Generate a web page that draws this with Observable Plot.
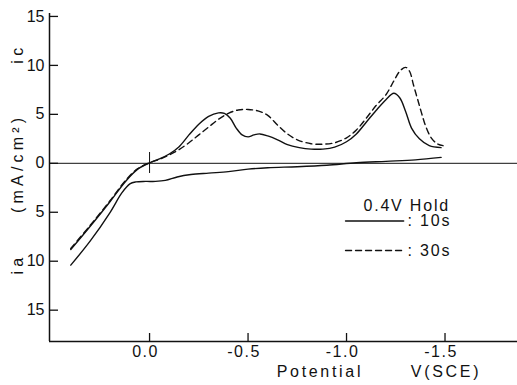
<!DOCTYPE html>
<html><head><meta charset="utf-8">
<script src="https://cdn.jsdelivr.net/npm/d3@7"></script>
<script src="https://cdn.jsdelivr.net/npm/@observablehq/plot@0.6"></script>
<style>
body{margin:0;background:#fff;}
svg{font-family:"Liberation Sans",Arial,sans-serif;}
</style></head>
<body><div id="chart"></div>
<script>
// Potential (V vs SCE) and current density (mA/cm2, cathodic positive)
const solidTopV = [0.40,0.30,0.20,0.12,0.06,0.0,-0.05,-0.10,-0.15,-0.20,-0.25,-0.30,-0.35,-0.38,-0.41,-0.44,-0.47,-0.50,-0.53,-0.56,-0.60,-0.65,-0.70,-0.76,-0.82,-0.88,-0.94,-1.00,-1.05,-1.10,-1.15,-1.20,-1.24,-1.27,-1.30,-1.33,-1.37,-1.42,-1.48];
const solidTopI = [-8.8,-6.4,-3.9,-1.8,-0.6,0.05,0.45,0.95,1.7,2.9,4.0,4.8,5.15,5.1,4.6,3.6,2.9,2.7,2.9,3.0,2.8,2.4,1.9,1.6,1.45,1.45,1.65,2.2,3.0,4.2,5.4,6.5,7.15,6.7,5.3,3.6,2.5,1.8,1.6];
const solidLowV = [0.40,0.30,0.20,0.14,0.10,0.07,0.02,-0.03,-0.08,-0.14,-0.21,-0.30,-0.40,-0.50,-0.60,-0.75,-0.90,-1.05,-1.20,-1.35,-1.48];
const solidLowI = [-10.4,-7.9,-5.0,-3.0,-2.1,-1.9,-1.85,-1.85,-1.75,-1.4,-1.15,-1.0,-0.85,-0.6,-0.45,-0.35,-0.2,0.05,0.2,0.35,0.6];
const dashTopV = [0.40,0.30,0.20,0.12,0.06,0.0,-0.05,-0.10,-0.15,-0.20,-0.25,-0.30,-0.35,-0.40,-0.45,-0.50,-0.55,-0.60,-0.65,-0.70,-0.75,-0.82,-0.88,-0.94,-1.00,-1.05,-1.10,-1.15,-1.20,-1.24,-1.27,-1.30,-1.32,-1.34,-1.36,-1.38,-1.40,-1.43,-1.46,-1.49];
const dashTopI = [-8.7,-6.3,-3.8,-1.7,-0.55,0.05,0.4,0.85,1.4,2.1,2.9,3.7,4.5,5.1,5.45,5.5,5.35,4.9,3.9,3.0,2.4,2.0,1.95,2.1,2.6,3.4,4.6,5.9,7.0,8.4,9.4,9.8,9.4,8.0,6.6,5.2,3.9,2.6,2.0,1.8];

const xTicks = [0.0,-0.5,-1.0,-1.5];
const xTickLabels = ["0.0","-0.5","-1.0","-1.5"];
const yTicks = [15,10,5,0,-5,-10,-15];
const yTickLabels = ["15","10","5","0","5","10","15"];
const yLabels = [{t:"ic", y:11.2},{t:"(mA/cm²)", y:0},{t:"ia", y:-10.3}];
const xTitles = [{t:"Potential", v:-0.865},{t:"V(SCE)", v:-1.505}];
const legendTitle = "0.4V Hold";
const legendLabels = [": 10s", ": 30s"];
const legendY = [-5.9, -8.9];

const toPts = (V,I) => V.map((v,i)=>({v, i:I[i]}));
const solidTop = toPts(solidTopV, solidTopI);
const solidLow = toPts(solidLowV, solidLowI);
const dashTop = toPts(dashTopV, dashTopI);

const W = 517, H = 385, mL = 49, mR = 0, mT = 13, mB = 44;
const xDom = [0.508, -1.868], yDom = [-18.2, 15.3];
const innerH = H - mT - mB, innerW = W - mL - mR;

const legSolid = [{v:-0.995, i:legendY[0]},{v:-1.29, i:legendY[0]}];
const legDash = [{v:-0.995, i:legendY[1]},{v:-1.29, i:legendY[1]}];
const legendItems = legendLabels.map((t,k)=>({t, y:legendY[k]}));

const ink = "#111";
const chart = Plot.plot({
  width: W, height: H,
  marginLeft: mL, marginRight: mR, marginTop: mT, marginBottom: mB,
  style: {fontSize:"15px", fontFamily:"Liberation Sans, Arial, sans-serif", color:ink, background:"#fff"},
  x: {domain: xDom, axis: null},
  y: {domain: yDom, axis: null},
  marks: [
    Plot.ruleX([xDom[0]], {stroke:ink, strokeWidth:1.5}),
    Plot.ruleY([yDom[0]], {stroke:ink, strokeWidth:1.5}),
    Plot.ruleY([0], {stroke:ink, strokeWidth:1}),
    Plot.tickX(xTicks, {x:d=>d, stroke:ink, strokeWidth:1.3, insetTop: innerH - 8}),
    Plot.tickY(yTicks, {y:d=>d, stroke:ink, strokeWidth:1.3, insetRight: innerW - 9}),
    Plot.tickX([0], {x:d=>d, stroke:ink, strokeWidth:1, insetTop: 139, insetBottom: 168}),
    Plot.text(xTicks, {x:d=>d, frameAnchor:"bottom", text:(d,i)=>xTickLabels[i], dy:15, dx:-4, fill:ink, fontSize:16}),
    Plot.text(yTicks, {y:d=>d, frameAnchor:"left", text:(d,i)=>yTickLabels[i], dx:-5, textAnchor:"end", fill:ink, fontSize:16}),
    Plot.text(xTitles, {x:"v", frameAnchor:"bottom", text:"t", dy:35, fill:ink, fontSize:16}),
    Plot.text(yLabels, {y:"y", text:"t", frameAnchor:"left", textAnchor:"middle", dx:-32, rotate:-90, fill:ink, fontSize:16}),
    Plot.line(solidLow, {x:"v", y:"i", stroke:ink, strokeWidth:1.4, curve:"catmull-rom"}),
    Plot.line(solidTop, {x:"v", y:"i", stroke:ink, strokeWidth:1.4, curve:"catmull-rom"}),
    Plot.line(dashTop, {x:"v", y:"i", stroke:ink, strokeWidth:1.4, strokeDasharray:"6,4", curve:"catmull-rom"}),
    Plot.text([legendTitle], {x:-1.086, y:-4.3, text:d=>d, textAnchor:"start", fill:ink, fontSize:16}),
    Plot.line(legSolid, {x:"v", y:"i", stroke:ink, strokeWidth:1.4}),
    Plot.line(legDash, {x:"v", y:"i", stroke:ink, strokeWidth:1.4, strokeDasharray:"6,4"}),
    Plot.text(legendItems, {x:-1.30, y:"y", text:"t", textAnchor:"start", dx:2, fill:ink, fontSize:16})
  ]
});
document.getElementById("chart").appendChild(chart);
// letter spacing like the typewriter-style original
const spacing = new Map();
xTickLabels.forEach(t=>spacing.set(t,"1.5px"));
xTitles.forEach(d=>spacing.set(d.t,"2.7px"));
yLabels.forEach(d=>spacing.set(d.t,"4.2px"));
[legendTitle, ...legendLabels].forEach(t=>spacing.set(t,"1.8px"));
d3.select(chart).selectAll("text").each(function(){
  const s = spacing.get(this.textContent);
  if (s) this.style.letterSpacing = s;
});
</script>
</body></html>
